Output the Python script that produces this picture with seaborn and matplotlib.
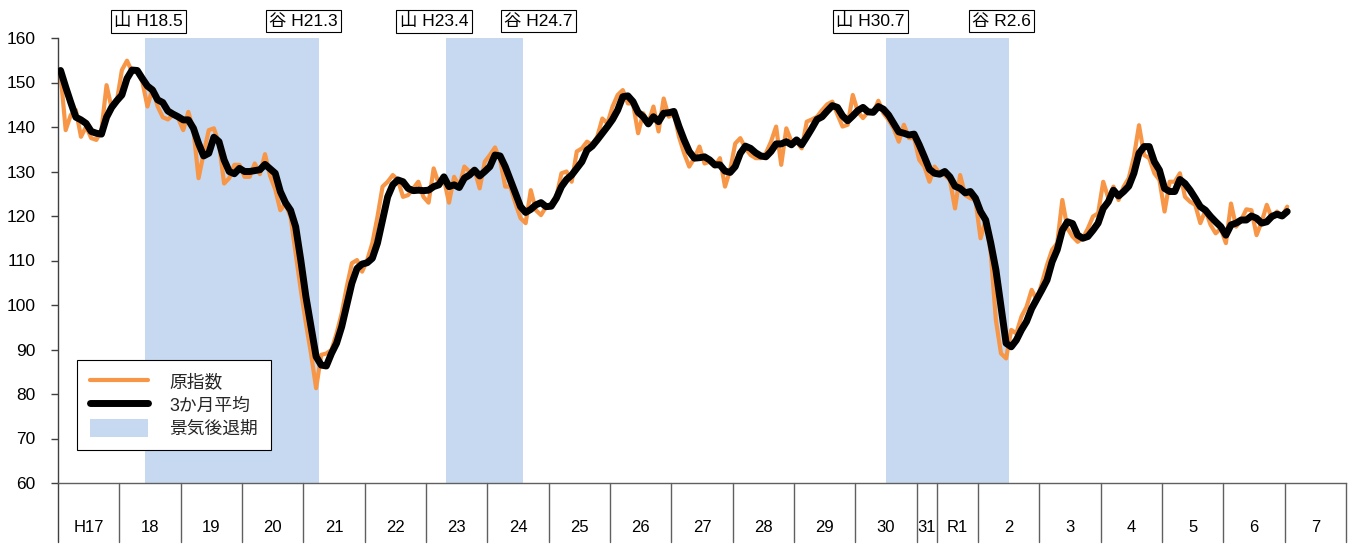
import numpy as np
import pandas as pd
import matplotlib
matplotlib.use("Agg")
import matplotlib.pyplot as plt
import matplotlib.transforms as mtransforms
from matplotlib.lines import Line2D
from matplotlib.patches import Patch
import seaborn as sns

# ---------------- data (monthly, H17.1 = 2005-01 ... R7.1 = 2025-01) ----------------
raw_index = [
    152.0, 139.3, 142.7, 143.8, 137.8, 140.1, 137.5, 137.1, 139.3, 149.4, 144.2, 145.7,   # H17
    152.8, 154.9, 152.4, 152.4, 150.2, 144.6, 148.7, 144.6, 142.2, 141.7, 142.7, 142.0,   # H18
    139.3, 143.4, 139.3, 128.5, 134.1, 139.3, 139.7, 136.3, 127.3, 128.5, 131.5, 131.5,   # H19
    128.8, 128.8, 131.8, 129.4, 133.9, 129.0, 126.0, 121.3, 122.8, 119.8, 111.6, 103.4,   # H20
    95.9, 89.1, 81.3, 88.8, 89.1, 89.9, 93.6, 98.1, 104.1, 109.4, 110.1, 107.5,           # H21
    110.1, 113.9, 119.8, 126.6, 127.7, 129.2, 128.1, 124.3, 124.7, 126.2, 127.7, 124.3,   # H22
    123.0, 130.7, 127.2, 128.3, 123.0, 128.8, 126.6, 131.1, 130.0, 130.3, 126.2, 132.2,   # H23
    133.7, 135.4, 132.6, 126.6, 126.6, 122.8, 119.5, 118.4, 125.8, 121.3, 120.2, 122.1,   # H24
    122.8, 124.3, 129.6, 130.0, 127.7, 134.5, 135.2, 136.7, 136.0, 137.8, 141.9, 140.8,   # H25
    144.6, 147.2, 148.3, 145.3, 145.3, 138.6, 143.1, 140.8, 144.6, 139.0, 146.4, 142.3,   # H26
    143.1, 137.8, 134.1, 131.1, 133.0, 135.6, 131.8, 132.2, 131.1, 133.0, 126.6, 130.3,   # H27
    136.3, 137.5, 135.2, 133.7, 133.0, 133.0, 134.1, 136.7, 140.1, 131.5, 139.7, 136.7,   # H28
    136.7, 135.2, 141.2, 141.7, 142.3, 143.8, 145.1, 145.7, 142.8, 140.1, 140.5, 147.2,   # H29
    143.4, 142.0, 143.4, 143.1, 145.9, 143.1, 141.6, 139.7, 136.7, 140.5, 137.5, 137.5,   # H30
    132.6, 131.1, 127.7, 131.1, 129.6, 129.2, 128.1, 121.7, 129.2, 124.7, 124.0, 123.6,   # H31/R1
    115.0, 119.1, 111.6, 96.6, 89.1, 88.0, 94.4, 93.6, 97.4, 99.6, 103.4, 101.1,          # R2
    104.9, 109.0, 112.4, 113.9, 123.6, 117.2, 115.4, 114.2, 115.0, 117.2, 119.9, 120.6,   # R3
    127.7, 124.0, 126.6, 123.6, 126.6, 128.5, 133.3, 140.4, 133.7, 133.0, 129.6, 128.1,   # R4
    121.0, 127.7, 127.7, 129.6, 124.3, 123.2, 122.5, 118.4, 121.3, 118.0, 116.1, 117.2,   # R5
    113.9, 122.8, 117.6, 119.1, 121.5, 121.3, 115.7, 118.7, 122.5, 119.5, 121.0, 119.9,   # R6
    122.1,                                                                                # R7
]

avg_3m = [
    152.7, 149.0, 145.5, 142.2, 141.6, 140.8, 139.0, 138.6, 138.4, 142.2, 144.4, 145.9,
    147.2, 150.9, 152.8, 152.7, 150.9, 149.2, 148.3, 146.1, 145.5, 143.6, 142.9, 142.3,
    141.6, 141.6, 139.7, 136.3, 133.5, 134.1, 137.7, 136.7, 132.6, 130.0, 129.5, 130.7,
    130.0, 130.0, 130.2, 130.4, 131.6, 130.6, 129.6, 125.5, 123.0, 121.3, 117.6, 110.1,
    101.9, 95.1, 88.4, 86.5, 86.3, 89.1, 91.4, 95.1, 100.0, 104.9, 108.2, 109.2,
    109.5, 110.5, 113.9, 119.1, 124.3, 127.0, 128.1, 127.7, 126.2, 125.7, 125.8, 125.7,
    125.8, 126.6, 127.0, 128.8, 126.6, 127.0, 126.4, 128.5, 129.2, 130.3, 129.0, 130.0,
    131.1, 133.7, 133.5, 131.1, 128.1, 125.1, 122.1, 120.8, 121.5, 122.5, 123.0, 122.1,
    122.2, 124.0, 126.6, 128.2, 129.2, 130.7, 132.2, 134.8, 135.7, 137.1, 138.6, 140.1,
    141.7, 143.8, 146.8, 147.0, 145.7, 143.3, 142.3, 140.7, 142.3, 141.2, 143.1, 143.2,
    143.5, 140.1, 137.1, 134.5, 133.0, 133.1, 133.3, 132.6, 131.5, 131.5, 130.1, 129.8,
    131.1, 134.1, 135.7, 135.2, 134.2, 133.5, 133.3, 134.5, 136.2, 136.2, 136.7, 136.0,
    137.1, 136.0, 137.8, 139.7, 141.7, 142.3, 143.6, 144.8, 144.4, 142.5, 141.4, 142.5,
    143.7, 144.4, 143.4, 143.3, 144.6, 144.0, 142.7, 140.8, 138.9, 138.6, 138.2, 138.4,
    136.0, 133.3, 130.5, 129.6, 129.4, 130.0, 128.8, 126.7, 126.2, 125.2, 125.5, 124.0,
    121.0, 119.1, 113.9, 107.9, 99.6, 91.4, 90.6, 92.1, 94.4, 96.3, 99.2, 101.3,
    103.4, 105.6, 109.7, 112.4, 116.8, 118.7, 118.3, 115.7, 115.0, 115.4, 116.8, 118.4,
    121.7, 123.2, 125.8, 124.5, 125.5, 126.7, 129.6, 134.1, 135.6, 135.6, 132.2, 130.3,
    126.2, 125.5, 125.5, 128.2, 127.3, 125.8, 124.0, 122.1, 121.3, 119.9, 118.7, 117.6,
    115.7, 118.0, 118.4, 119.1, 119.1, 120.0, 119.5, 118.4, 118.7, 119.9, 120.4, 120.0,
    121.0,
]

# era-year labels and their length in months
year_labels = ["H17", "18", "19", "20", "21", "22", "23", "24", "25", "26", "27",
               "28", "29", "30", "31", "R1", "2", "3", "4", "5", "6", "7"]
year_months = [12, 12, 12, 12, 12, 12, 12, 12, 12, 12, 12,
               12, 12, 12, 4, 8, 12, 12, 12, 12, 12, 12]

# recession periods (month offsets from H17.1) and turning-point labels
recession_start = [17, 76, 162]
recession_end = [51, 91, 186]
turn_labels = ["山 H18.5", "谷 H21.3", "山 H23.4", "谷 H24.7", "山 H30.7", "谷 R2.6"]
turn_label_pos = [17.7, 48.0, 73.6, 94.0, 159.0, 184.6]

legend_labels = ["原指数", "3か月平均", "景気後退期"]

# ---------------- styling ----------------
sns.set_theme(style="white")
plt.rcParams["font.family"] = ["Liberation Sans", "Noto Sans CJK JP", "DejaVu Sans"]

ORANGE = "#F79646"
BLUE = "#C6D9F0"

W, H = 1353, 544
fig = plt.figure(figsize=(W / 100, H / 100), dpi=100)
ax = fig.add_axes([58 / W, 61 / H, 1288 / W, 445 / H])

df = pd.DataFrame({
    "month": np.arange(len(raw_index)) + 0.5,
    "raw": raw_index,
    "avg": avg_3m,
})

for s, e in zip(recession_start, recession_end):
    ax.axvspan(s, e, color=BLUE, lw=0, zorder=0)

sns.lineplot(data=df, x="month", y="raw", color=ORANGE, lw=3.0, ax=ax, zorder=2,
             solid_joinstyle="round", solid_capstyle="round")
sns.lineplot(data=df, x="month", y="avg", color="black", lw=5.0, ax=ax, zorder=3,
             solid_joinstyle="round", solid_capstyle="round")

total_months = sum(year_months)
ax.set_xlim(0, total_months)
ax.set_ylim(60, 160)
ax.set_yticks(range(60, 161, 10))
ax.set_xticks([])
ax.set_xlabel("")
ax.set_ylabel("")

for side in ("top", "right"):
    ax.spines[side].set_visible(False)
ax.spines["left"].set_color("#404040")
ax.spines["left"].set_linewidth(1.0)
ax.spines["bottom"].set_color("#606060")
ax.spines["bottom"].set_linewidth(1.0)

ax.tick_params(axis="y", left=True, length=5, width=1, color="#404040",
               pad=11, labelsize=12.5, labelcolor="black")

# year separators and labels below the axis
trans = mtransforms.blended_transform_factory(ax.transData, ax.transAxes)
bounds = np.concatenate([[0], np.cumsum(year_months)])
for b in bounds:
    col = "#404040" if b == 0 else "#606060"
    ax.add_line(Line2D([b, b], [0, -0.132], transform=trans, color=col,
                       lw=1.0, clip_on=False))
for lab, a, b in zip(year_labels, bounds[:-1], bounds[1:]):
    ax.text((a + b) / 2, -0.099, lab, transform=trans, ha="center", va="center",
            fontsize=12, color="black")

# turning-point labels above the plot
for lab, x in zip(turn_labels, turn_label_pos):
    ax.text(x, 1.038, lab, transform=trans, ha="center", va="center", fontsize=12.5,
            color="black", clip_on=False,
            bbox=dict(boxstyle="square,pad=0.2", fc="white", ec="black", lw=0.8))

handles = [
    Line2D([], [], color=ORANGE, lw=3.0),
    Line2D([], [], color="black", lw=5.0),
    Patch(facecolor=BLUE, edgecolor="none"),
]
leg = ax.legend(handles, legend_labels, loc="lower left",
                bbox_to_anchor=(0.0148, 0.074), borderaxespad=0,
                frameon=True, fancybox=False, framealpha=1, edgecolor="black",
                fontsize=12.8, handlelength=3.3, handleheight=1.2,
                labelspacing=0.22, borderpad=0.7, handletextpad=1.2)
leg.get_frame().set_linewidth(0.8)

fig.savefig("out.png", dpi=100)
